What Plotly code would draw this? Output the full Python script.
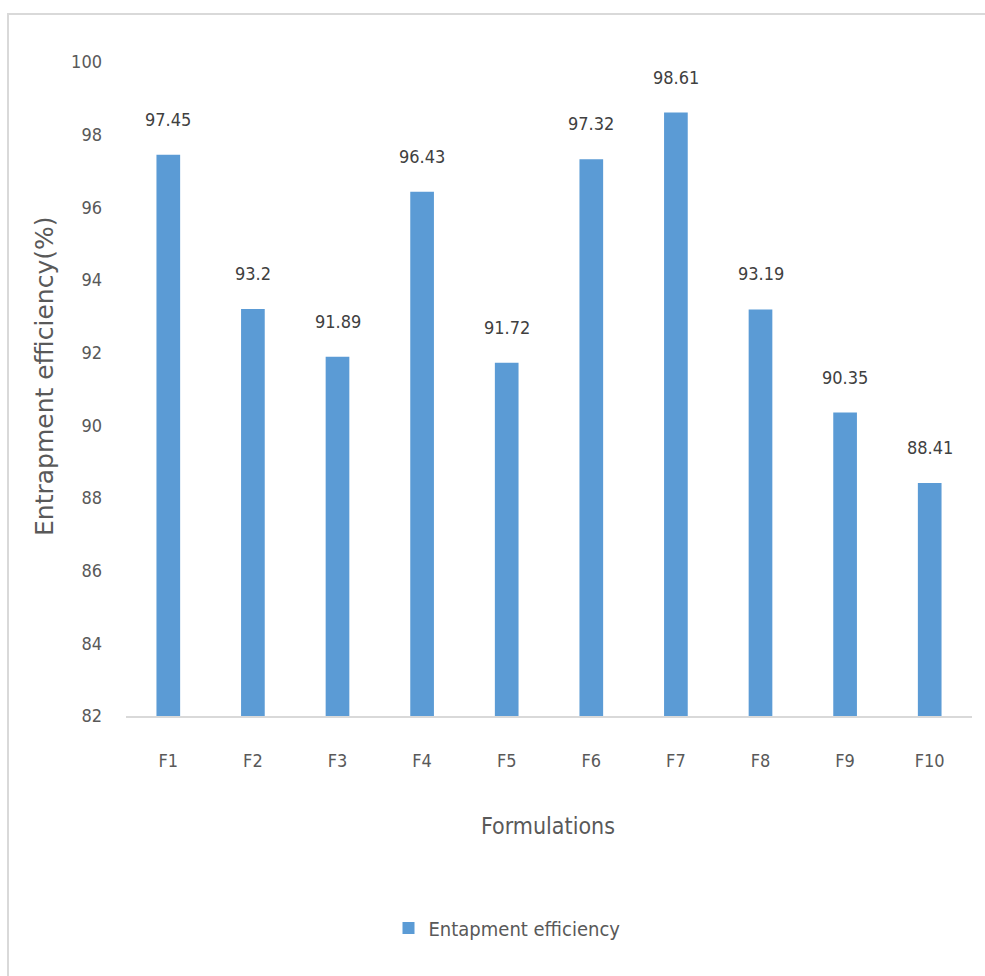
import plotly.graph_objects as go

categories = ["F1", "F2", "F3", "F4", "F5", "F6", "F7", "F8", "F9", "F10"]
values = [97.45, 93.2, 91.89, 96.43, 91.72, 97.32, 98.61, 93.19, 90.35, 88.41]
labels = ["97.45", "93.2", "91.89", "96.43", "91.72", "97.32", "98.61", "93.19", "90.35", "88.41"]
y_min, y_max = 82, 100
y_ticks = [82, 84, 86, 88, 90, 92, 94, 96, 98, 100]

W, H = 985, 976
L, R, T, B = 126, 13, 62, 260
PW, PH = W - L - R, H - T - B
TXT = "#595959"
NARROW = "Liberation Sans Narrow, DejaVu Sans Condensed, Arial Narrow, sans-serif"


def px_x(px):
    return (px - L) / PW


def px_y(py):
    return (H - B - py) / PH


fig = go.Figure()
fig.add_trace(go.Bar(
    x=categories, y=[v - y_min for v in values], base=y_min,
    name="Entapment efficiency",
    marker=dict(color="#5B9BD5", line=dict(width=0)),
    hoverinfo="skip",
))

annotations = [
    dict(x=c, y=v, text=t, xref="x", yref="y", showarrow=False,
         xanchor="center", yanchor="bottom", yshift=23,
         font=dict(family=NARROW, size=18, color="#404040"))
    for c, v, t in zip(categories, values, labels)
]
annotations += [
    dict(text="Entrapment efficiency(%)", xref="paper", yref="paper",
         x=px_x(44), y=px_y(376), textangle=-90, showarrow=False,
         xanchor="center", yanchor="middle",
         font=dict(family="DejaVu Sans", size=25, color=TXT)),
    dict(text="Formulations", xref="paper", yref="paper",
         x=px_x(548), y=px_y(826), showarrow=False,
         xanchor="center", yanchor="middle",
         font=dict(family=NARROW, size=23, color=TXT)),
]

fig.update_layout(
    width=W, height=H,
    margin=dict(l=L, r=R, t=T, b=B),
    paper_bgcolor="white", plot_bgcolor="white",
    bargap=0.72,
    showlegend=True,
    legend=dict(orientation="h", x=px_x(507), xanchor="center",
                y=px_y(928), yanchor="middle",
                font=dict(family=NARROW, size=20, color=TXT),
                itemwidth=30),
    xaxis=dict(showline=True, linecolor="#D9D9D9", linewidth=1.5,
               ticks="", showgrid=False,
               tickfont=dict(family=NARROW, size=18, color=TXT),
               ticklabelstandoff=28),
    yaxis=dict(range=[y_min, y_max], tickvals=y_ticks, showgrid=False,
               showline=False, zeroline=False, ticks="",
               tickfont=dict(family=NARROW, size=18, color=TXT),
               ticklabelstandoff=23),
    shapes=[dict(type="rect", xref="paper", yref="paper",
                 x0=px_x(8), x1=px_x(W + 20),
                 y0=px_y(H + 20), y1=px_y(14),
                 line=dict(color="#D9D9D9", width=2), layer="below")],
    annotations=annotations,
)

fig.write_html("out.html")
